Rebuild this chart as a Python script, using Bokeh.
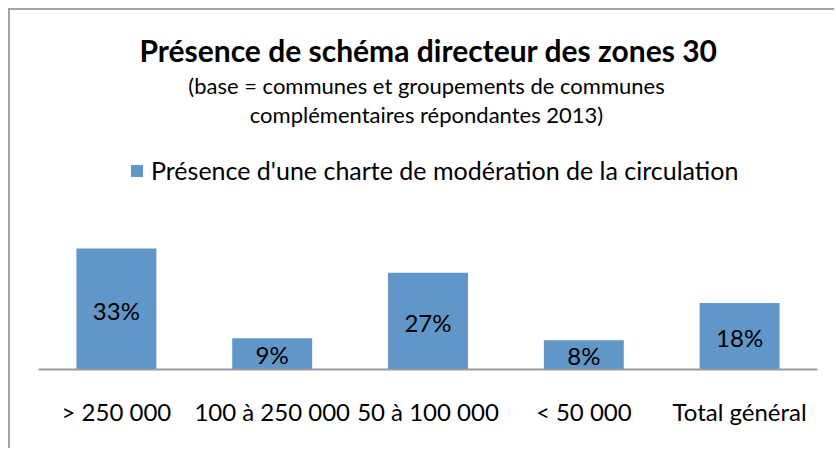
from bokeh.plotting import figure
from bokeh.models import ColumnDataSource, Label, Legend, LegendItem, LabelSet
from bokeh.core.properties import value
from bokeh.embed import file_html
from bokeh.resources import INLINE

categories = ["> 250 000", "100 à 250 000", "50 à 100 000", "< 50 000", "Total général"]
values = [33.4, 8.6, 26.7, 8.1, 18.4]
labels = [f"{int(v + 0.5)}%" for v in values]
title_text = "Présence de schéma directeur des zones 30"
subtitle_lines = ["(base = communes et groupements de communes",
                  "complémentaires répondantes 2013)"]
series_name = "Présence d'une charte de modération de la circulation"

FONT = "Lato"
BLUE = "#6196c9"

src = ColumnDataSource(dict(cat=categories, val=values, half=[v / 2 for v in values], lab=labels))

# frame spans from canvas top to the baseline; 3.62 px per percentage point
p = figure(x_range=categories, y_range=(0, 359 / 3.62), width=826, height=440,
           output_backend="svg", toolbar_location=None, y_axis_location=None,
           min_border_left=28, min_border_right=19, min_border_top=0, min_border_bottom=81)
p.x_range.range_padding = 0
p.outline_line_color = None
p.grid.visible = False
p.styles = {"margin-left": "8px", "margin-top": "8px",
            "border-left": "2px solid #a3a3a3", "border-top": "2px solid #a3a3a3"}

r = p.vbar(x="cat", top="val", width=0.513, source=src, fill_color=BLUE, line_color=None)

p.add_layout(LabelSet(x="cat", y="half", text="lab", source=src, text_align="center",
                      text_baseline="middle", text_font=value(FONT), text_font_size=value("24px"),
                      text_color=value("#000000"), y_offset=-1))

ax = p.xaxis[0]
ax.axis_line_color = "#9a9a9a"
ax.axis_line_width = 2
ax.major_tick_line_color = None
ax.minor_tick_line_color = None
ax.major_label_standoff = 21
ax.major_label_text_font = FONT
ax.major_label_text_font_size = "24px"
ax.major_label_text_color = "#000000"

# page x -> frame x: X - 38 ; page baseline y -> frame y: 379 - Y
p.add_layout(Label(x=428 - 38, y=379 - 59, x_units="screen", y_units="screen", text=title_text,
                   text_align="center", text_baseline="alphabetic", text_font=FONT,
                   text_font_size="30px", text_font_style="bold", text_color="#000000"))
for line, base in zip(subtitle_lines, [95, 124]):
    p.add_layout(Label(x=426 - 38, y=379 - base, x_units="screen", y_units="screen", text=line,
                       text_align="center", text_baseline="alphabetic", text_font=FONT,
                       text_font_size="22px", text_color="#000000"))

legend = Legend(items=[LegendItem(label=series_name, renderers=[r])],
                location=(129 - 38, 369 - 185), orientation="horizontal",
                glyph_width=15, glyph_height=15, label_standoff=7, padding=0, margin=0,
                spacing=0, border_line_color=None, background_fill_alpha=0,
                label_text_font=FONT, label_text_font_size="25px", label_text_color="#000000")
p.add_layout(legend, "center")

open("out.html", "w").write(file_html(p, INLINE))
